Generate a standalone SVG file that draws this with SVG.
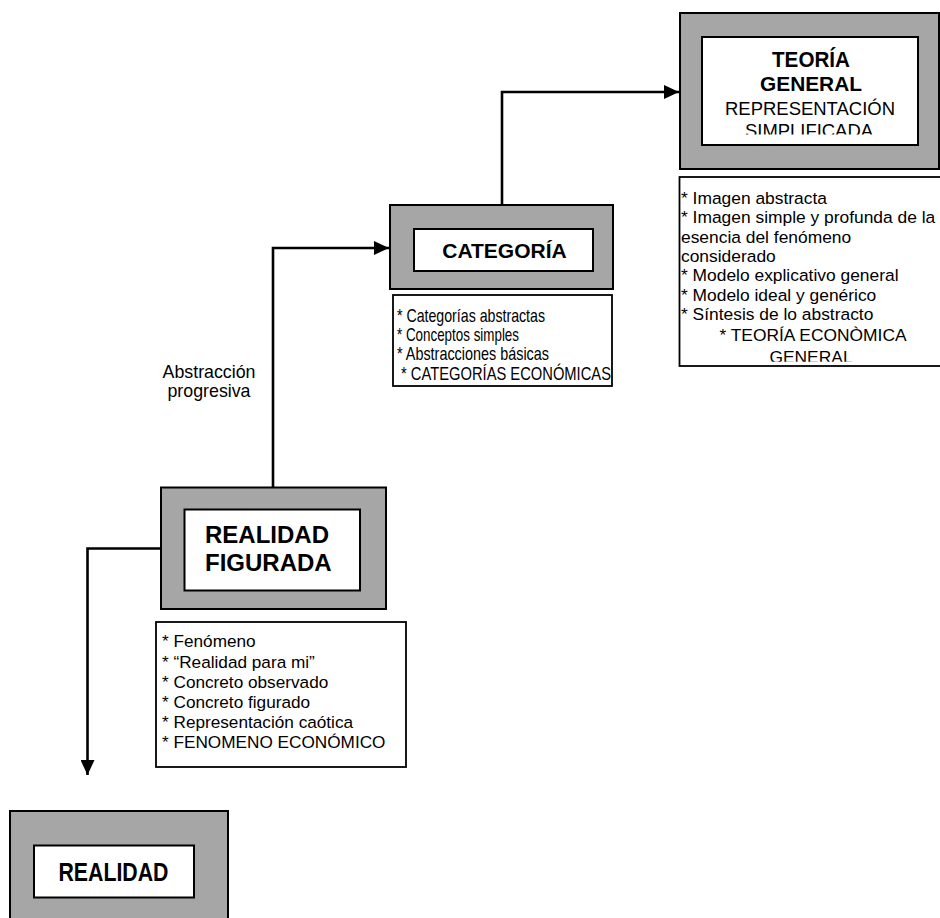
<svg xmlns="http://www.w3.org/2000/svg" width="940" height="918" viewBox="0 0 940 918">
<style>
.outer{fill:#a6a6a6;stroke:#000;stroke-width:2}
.inner{fill:#fff;stroke:#000;stroke-width:2}
.list{fill:#fff;stroke:#000;stroke-width:1.8}
.t{font-family:"Liberation Sans",Arial,sans-serif;fill:#000}
.b{font-weight:bold}
.conn{fill:none;stroke:#000;stroke-width:2.6}
</style>
<defs>
<marker id="arr" markerUnits="userSpaceOnUse" markerWidth="16" markerHeight="14" refX="15" refY="7" orient="auto">
<path d="M0,0 L15,7 L0,14 z" fill="#000"/>
</marker>
<clipPath id="clipTG"><rect x="702" y="37" width="216" height="97.5"/></clipPath>
<clipPath id="clipTL"><rect x="679" y="177" width="261" height="184.8"/></clipPath>
</defs>

<g id="connectors">
<path class="conn" d="M273,487 V248 H389" marker-end="url(#arr)"/>
<path class="conn" d="M502,205 V92 H679" marker-end="url(#arr)"/>
<path class="conn" d="M161,548.5 H87.5 V775" marker-end="url(#arr)"/>
</g>

<g id="label-abstraccion">
<text class="t" x="209" y="378" font-size="17.8" text-anchor="middle">Abstracción</text>
<text class="t" x="209" y="397" font-size="17.8" text-anchor="middle">progresiva</text>
</g>

<g id="teoria-general">
<rect class="outer" x="680" y="13" width="259" height="156"/>
<rect class="inner" x="702" y="37" width="216" height="108"/>
<g clip-path="url(#clipTG)">
<text class="t b" x="811" y="67.3" font-size="21.5" text-anchor="middle" textLength="78" lengthAdjust="spacingAndGlyphs">TEORÍA</text>
<text class="t b" x="811" y="91.3" font-size="21" text-anchor="middle" textLength="102" lengthAdjust="spacingAndGlyphs">GENERAL</text>
<text class="t" x="810" y="115" font-size="17.5" text-anchor="middle" textLength="170" lengthAdjust="spacingAndGlyphs">REPRESENTACIÓN</text>
<text class="t" x="809" y="137.3" font-size="17.5" text-anchor="middle" textLength="128" lengthAdjust="spacingAndGlyphs">SIMPLIFICADA</text>
</g>
</g>

<g id="teoria-list">
<rect class="list" x="679.5" y="177" width="270" height="189"/>
<g clip-path="url(#clipTL)" class="t" font-size="17.4">
<text x="681" y="204">* Imagen abstracta</text>
<text x="681" y="223.3">* Imagen simple y profunda de la</text>
<text x="681" y="242.7">esencia del fenómeno</text>
<text x="681" y="262">considerado</text>
<text x="681" y="281.3">* Modelo explicativo general</text>
<text x="681" y="300.7">* Modelo ideal y genérico</text>
<text x="681" y="320">* Síntesis de lo abstracto</text>
<text x="813" y="340.5" text-anchor="middle">* TEORÍA ECONÒMICA</text>
<text x="811" y="363" text-anchor="middle">GENERAL</text>
</g>
</g>

<g id="categoria">
<rect class="outer" x="390" y="205" width="223" height="84"/>
<rect class="inner" x="414" y="229" width="179" height="42"/>
<text class="t b" x="504.5" y="258" font-size="21" text-anchor="middle">CATEGORÍA</text>
</g>

<g id="categoria-list">
<rect class="list" x="393" y="295" width="219" height="91"/>
<g class="t" font-size="17.8">
<text x="397" y="321.7" textLength="148" lengthAdjust="spacingAndGlyphs">* Categorías abstractas</text>
<text x="397" y="341.2" textLength="122" lengthAdjust="spacingAndGlyphs">* Conceptos simples</text>
<text x="397" y="360.3" textLength="152" lengthAdjust="spacingAndGlyphs">* Abstracciones básicas</text>
<text x="401" y="380" textLength="210" lengthAdjust="spacingAndGlyphs">* CATEGORÍAS ECONÓMICAS</text>
</g>
</g>

<g id="realidad-figurada">
<rect class="outer" x="161" y="487.5" width="225" height="121.5"/>
<rect class="inner" x="184.5" y="509.5" width="175.5" height="81"/>
<text class="t b" x="205" y="543" font-size="24">REALIDAD</text>
<text class="t b" x="205" y="571" font-size="24">FIGURADA</text>
</g>

<g id="realidad-figurada-list">
<rect class="list" x="156" y="622" width="250" height="145"/>
<g class="t" font-size="17.2">
<text x="162" y="647.3">* Fenómeno</text>
<text x="162" y="667.5">* “Realidad para mi”</text>
<text x="162" y="687.7">* Concreto observado</text>
<text x="162" y="707.9">* Concreto figurado</text>
<text x="162" y="728.1">* Representación caótica</text>
<text x="162" y="748.3">* FENOMENO ECONÓMICO</text>
</g>
</g>

<g id="realidad">
<rect class="outer" x="10" y="811" width="218" height="120"/>
<rect class="inner" x="34" y="845.5" width="160" height="52"/>
<text class="t b" x="58.5" y="880.7" font-size="26" textLength="110" lengthAdjust="spacingAndGlyphs">REALIDAD</text>
</g>
</svg>
